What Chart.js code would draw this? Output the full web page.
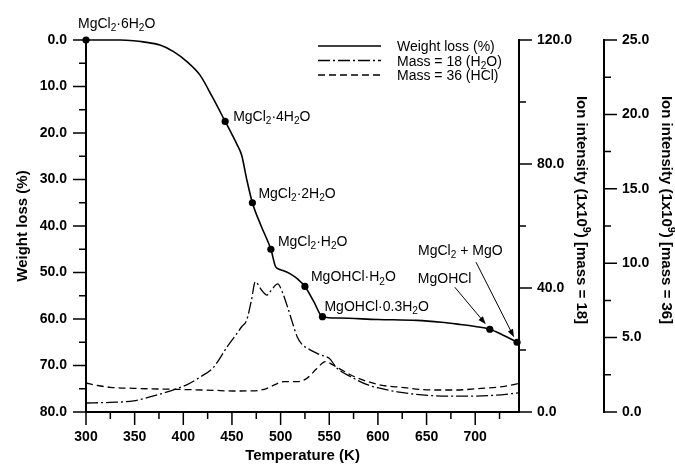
<!DOCTYPE html>
<html>
<head>
<meta charset="utf-8">
<script src="https://cdn.jsdelivr.net/npm/chart.js@4.4.1/dist/chart.umd.min.js"></script>
<style>
  html, body { margin: 0; padding: 0; background: #fff; }
</style>
</head>
<body>
<canvas id="tga" width="675" height="465"></canvas>
<script>
'use strict';

// weight loss curve (left axis, %)
const lossTemp = [300, 320, 335, 349, 359, 376, 390, 404, 417, 430, 443, 450, 455, 460, 465, 471, 480, 490, 495, 500, 510, 518, 525, 534, 543, 560, 600, 640, 665, 682, 700, 715, 730, 743];
const lossPct  = [0, 0, 0, 0.15, 0.4, 1.1, 2.5, 4.7, 7.5, 12.3, 17.5, 20.3, 22.4, 24.8, 29.8, 35, 40, 45, 48.8, 49.4, 50.3, 51.5, 53, 56.2, 59.5, 59.8, 60.1, 60.3, 60.7, 61.1, 61.6, 62.2, 63.6, 65];

// phases marked on the curve
const phaseTemp  = [300, 443, 471, 490, 525, 543, 715, 743];
const phaseLoss  = [0, 17.5, 35, 45, 53, 59.5, 62.2, 65];
const phaseLabel = ['MgCl_2·6H_2O', 'MgCl_2·4H_2O', 'MgCl_2·2H_2O', 'MgCl_2·H_2O',
                    'MgOHCl·H_2O', 'MgOHCl·0.3H_2O', 'MgOHCl', 'MgCl_2 + MgO'];

// ion intensity, mass 18 (H2O) and mass 36 (HCl)
const h2oTemp = [300, 325, 349, 373, 394, 405, 418, 431, 445, 452, 460, 465, 470, 474, 480, 486, 491, 497, 502, 507, 512, 517, 522, 528, 535, 541, 550, 558, 572, 589, 603, 620, 655, 690, 720, 746];
const h2oIon  = [2.9, 3.1, 3.6, 5.5, 7.6, 9.0, 11.4, 14.4, 21, 24, 27.5, 29.5, 36, 42, 39.5, 37.7, 39.5, 41.3, 38.5, 34, 29, 24.3, 21.8, 20.5, 19.3, 18.4, 17.3, 14.1, 11.4, 8.8, 7.6, 6.5, 5.3, 5.1, 5.4, 6.2];
const hclTemp = [300, 312, 325, 349, 394, 430, 452, 470, 483, 493, 503, 517, 527, 537, 546, 558, 576, 603, 624, 655, 680, 706, 730, 746];
const hclIon  = [1.95, 1.78, 1.66, 1.59, 1.52, 1.46, 1.41, 1.42, 1.52, 1.8, 2.04, 2.04, 2.26, 2.9, 3.38, 3.0, 2.37, 1.81, 1.66, 1.48, 1.48, 1.59, 1.72, 1.93];

// tick labels
const tempTicks = [300, 350, 400, 450, 500, 550, 600, 650, 700];
const lossTicks = [0, 10, 20, 30, 40, 50, 60, 70, 80];
const h2oTicks  = [0, 40, 80, 120];
const hclTicks  = [0, 5, 10, 15, 20, 25];

const FONT = '"Liberation Sans", Arial, Helvetica, sans-serif';

// label placement next to each phase marker: [dx, dy] from the marker (text left, text middle)
const labelOffset = [[-8, -17], [8, -5], [6, -10], [7, -8], [6, -10], [2, -11], [-72, -51], [-99, -92]];
// arrows for the last two phases: start and tip, relative to the marker
const arrowFor = { 6: [[-35, -42], [-4, -5]], 7: [[-41, -80], [-3, -5]] };

function xy(xs, ys) { return xs.map((x, i) => ({ x: x, y: ys[i] })); }

// '_c' = subscript char, '^c' = superscript char
function parseRich(str) {
  const parts = [];
  for (let i = 0; i < str.length; i++) {
    const c = str[i];
    if ((c === '_' || c === '^') && i + 1 < str.length) {
      parts.push({ t: str[i + 1], s: c === '_' ? 1 : -1 });
      i++;
    } else if (parts.length && parts[parts.length - 1].s === 0) {
      parts[parts.length - 1].t += c;
    } else {
      parts.push({ t: c, s: 0 });
    }
  }
  return parts;
}

function richWidth(ctx, str, size, weight) {
  let w = 0;
  parseRich(str).forEach(p => {
    ctx.font = weight + ' ' + (p.s ? size * 0.72 : size) + 'px ' + FONT;
    w += ctx.measureText(p.t).width;
  });
  return w;
}

function drawRich(ctx, str, x, yMid, size, weight, align) {
  let cx = align === 'center' ? x - richWidth(ctx, str, size, weight) / 2 : x;
  const base = yMid + size * 0.36;
  ctx.textAlign = 'left';
  ctx.textBaseline = 'alphabetic';
  parseRich(str).forEach(p => {
    ctx.font = weight + ' ' + (p.s ? size * 0.72 : size) + 'px ' + FONT;
    const dy = p.s === 1 ? size * 0.22 : (p.s === -1 ? -size * 0.42 : 0);
    ctx.fillText(p.t, cx, base + dy);
    cx += ctx.measureText(p.t).width;
  });
}

// major + minor tick marks (minor halfway between majors)
function drawTickMarks(ctx, scale, dir) {
  const vals = scale.ticks.map(t => t.value);
  const step = vals[1] - vals[0];
  ctx.beginPath();
  vals.forEach(v => {
    [[v, 13], [v + step / 2, 7]].forEach(([val, len]) => {
      if (val > scale.max + 1e-9) return;
      const p = scale.getPixelForValue(val);
      if (scale.isHorizontal()) {
        ctx.moveTo(p, scale.top);
        ctx.lineTo(p, scale.top + len);
      } else {
        const x0 = dir < 0 ? scale.right : scale.left;
        ctx.moveTo(x0, p);
        ctx.lineTo(x0 + dir * len, p);
      }
    });
  });
  ctx.stroke();
}

function drawArrow(ctx, x0, y0, x1, y1) {
  const a = Math.atan2(y1 - y0, x1 - x0);
  ctx.beginPath();
  ctx.moveTo(x0, y0);
  ctx.lineTo(x1 - 6 * Math.cos(a), y1 - 6 * Math.sin(a));
  ctx.stroke();
  ctx.beginPath();
  ctx.moveTo(x1, y1);
  ctx.lineTo(x1 - 8 * Math.cos(a) + 2.8 * Math.sin(a), y1 - 8 * Math.sin(a) - 2.8 * Math.cos(a));
  ctx.lineTo(x1 - 8 * Math.cos(a) - 2.8 * Math.sin(a), y1 - 8 * Math.sin(a) + 2.8 * Math.cos(a));
  ctx.closePath();
  ctx.fill();
}

const decorPlugin = {
  id: 'decor',
  afterDraw(chart) {
    const ctx = chart.ctx;
    const s = chart.scales;
    const area = chart.chartArea;
    const midY = (area.top + area.bottom) / 2;
    ctx.save();
    ctx.strokeStyle = '#000';
    ctx.fillStyle = '#000';
    ctx.lineWidth = 1.5;
    ctx.setLineDash([]);

    drawTickMarks(ctx, s.x, 1);
    drawTickMarks(ctx, s.y, -1);
    drawTickMarks(ctx, s.y1, 1);
    drawTickMarks(ctx, s.y2, 1);

    // axis titles
    drawRich(ctx, 'Temperature (K)', (area.left + area.right) / 2, 455, 15, 'bold', 'center');
    [[s.y.left + 22, midY, -1, 'Weight loss (%)'],
     [s.y1.left + 63, midY - 16, 1, 'Ion intensity (1x10^9) [mass = 18]'],
     [s.y2.left + 63, midY - 16, 1, 'Ion intensity (1x10^9) [mass = 36]']].forEach(([x, y, rot, txt]) => {
      ctx.save();
      ctx.translate(x, y);
      ctx.rotate(rot * Math.PI / 2);
      drawRich(ctx, txt, 0, 0, 15, 'bold', 'center');
      ctx.restore();
    });

    // legend
    chart.data.datasets.filter(d => d.label).forEach((d, i) => {
      const y = area.top + 6 + i * 14.5;
      ctx.lineWidth = d.borderWidth;
      ctx.setLineDash(d.borderDash || []);
      ctx.beginPath();
      ctx.moveTo(318, y);
      ctx.lineTo(381, y);
      ctx.stroke();
      ctx.setLineDash([]);
      drawRich(ctx, d.legendText, 397, y, 14, 'normal', 'left');
    });

    // phase labels and arrows
    ctx.lineWidth = 1;
    phaseLabel.forEach((txt, i) => {
      const px = s.x.getPixelForValue(phaseTemp[i]);
      const py = s.y.getPixelForValue(phaseLoss[i]);
      drawRich(ctx, txt, px + labelOffset[i][0], py + labelOffset[i][1], 14, 'normal', 'left');
      const ar = arrowFor[i];
      if (ar) drawArrow(ctx, px + ar[0][0], py + ar[0][1], px + ar[1][0], py + ar[1][1]);
    });
    ctx.restore();
  }
};

function axisBase(extra) {
  return Object.assign({
    type: 'linear',
    grid: { display: false, drawTicks: false },
    border: { display: true, color: '#000', width: 2 },
  }, extra);
}

function tickFont() {
  return { family: FONT, size: 14, weight: 'bold' };
}

new Chart(document.getElementById('tga').getContext('2d'), {
  type: 'line',
  data: {
    datasets: [
      {
        data: xy(phaseTemp, phaseLoss), yAxisID: 'y', showLine: false,
        pointRadius: 3.6, pointBackgroundColor: '#000', pointBorderWidth: 0, clip: false
      },
      {
        label: 'weight', legendText: 'Weight loss (%)',
        data: xy(lossTemp, lossPct), yAxisID: 'y',
        borderColor: '#000', borderWidth: 1.6, pointRadius: 0,
        cubicInterpolationMode: 'monotone', clip: false
      },
      {
        label: 'h2o', legendText: 'Mass = 18 (H_2O)',
        data: xy(h2oTemp, h2oIon), yAxisID: 'y1',
        borderColor: '#000', borderWidth: 1.3, borderDash: [12, 3, 2, 3], pointRadius: 0,
        cubicInterpolationMode: 'monotone'
      },
      {
        label: 'hcl', legendText: 'Mass = 36 (HCl)',
        data: xy(hclTemp, hclIon), yAxisID: 'y2',
        borderColor: '#000', borderWidth: 1.3, borderDash: [7, 4], pointRadius: 0,
        cubicInterpolationMode: 'monotone'
      }
    ]
  },
  options: {
    responsive: false,
    animation: false,
    layout: { padding: { top: 40, left: 0, right: 0, bottom: 0 } },
    plugins: { legend: { display: false }, tooltip: { enabled: false } },
    scales: {
      x: axisBase({
        min: 300, max: 745,
        afterBuildTicks: sc => { sc.ticks = tempTicks.map(v => ({ value: v })); },
        afterFit: sc => { sc.height = 53; },
        ticks: { color: '#000', font: tickFont(), padding: 17, maxRotation: 0, autoSkip: false,
                 callback: v => String(v) }
      }),
      y: axisBase({
        position: 'left', reverse: true, min: 0, max: 80,
        afterBuildTicks: sc => { sc.ticks = lossTicks.map(v => ({ value: v })); },
        afterFit: sc => { sc.width = 86; },
        ticks: { color: '#000', font: tickFont(), padding: 19, callback: v => v.toFixed(1) }
      }),
      y1: axisBase({
        position: 'right', min: 0, max: 120,
        afterBuildTicks: sc => { sc.ticks = h2oTicks.map(v => ({ value: v })); },
        afterFit: sc => { sc.width = 85; },
        ticks: { color: '#000', font: tickFont(), padding: 18, callback: v => v.toFixed(1) }
      }),
      y2: axisBase({
        position: 'right', min: 0, max: 25,
        afterBuildTicks: sc => { sc.ticks = hclTicks.map(v => ({ value: v })); },
        afterFit: sc => { sc.width = 71; },
        ticks: { color: '#000', font: tickFont(), padding: 18, callback: v => v.toFixed(1) }
      })
    }
  },
  plugins: [decorPlugin]
});
</script>
</body>
</html>
